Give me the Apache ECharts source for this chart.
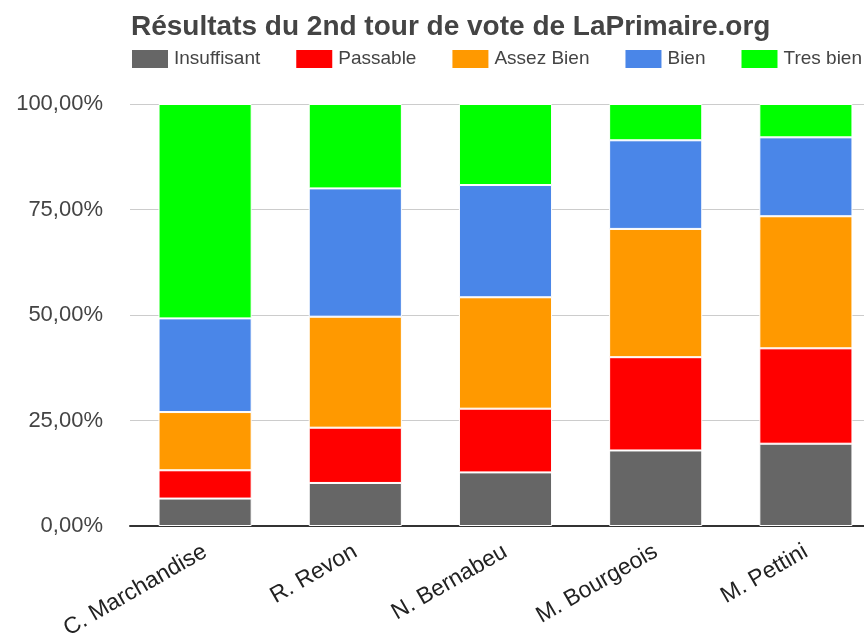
<!DOCTYPE html>
<html>
<head>
<meta charset="utf-8">
<script src="https://cdn.jsdelivr.net/npm/echarts@6/dist/echarts.min.js"></script>
<style>
html, body { margin: 0; padding: 0; background: #fff; }
#chart { width: 864px; height: 640px; }
</style>
</head>
<body>
<div id="chart"></div>
<script>
// candidats
var candidats = ['C. Marchandise', 'R. Revon', 'N. Bernabeu', 'M. Bourgeois', 'M. Pettini'];

// parts de chaque mention (%)
var insuffisant = [6.5, 10.2, 12.7, 17.9, 19.5];
var passable = [6.7, 13.1, 15.1, 22.1, 22.6];
var assezBien = [13.8, 26.3, 26.4, 30.4, 31.3];
var bien = [22.2, 30.4, 26.6, 21.0, 18.7];
var tresBien = [50.8, 20.0, 19.2, 8.6, 7.9];

var mentions = ['Insuffisant', 'Passable', 'Assez Bien', 'Bien', 'Tres bien'];
var couleurs = ['#666666', '#ff0000', '#ff9900', '#4a86e8', '#00ff00'];
var valeurs = [insuffisant, passable, assezBien, bien, tresBien];

var series = [];
for (var i = 0; i < mentions.length; i++) {
	series.push({
		name: mentions[i],
		type: 'bar',
		stack: 'total',
		barWidth: '62%',
		itemStyle: {
			color: couleurs[i],
			borderColor: '#ffffff',
			borderWidth: 1
		},
		data: valeurs[i]
	});
}

var option = {
	animation: false,
	textStyle: { fontFamily: 'Liberation Sans, Arial, sans-serif' },
	title: {
		text: 'Résultats du 2nd tour de vote de LaPrimaire.org',
		left: 126,
		top: 8,
		textStyle: { fontSize: 28, fontWeight: 'bold', color: '#444444' }
	},
	legend: {
		data: mentions,
		left: 130,
		top: 48,
		width: 900,
		padding: 0,
		itemWidth: 38,
		itemHeight: 20,
		itemGap: 34,
		icon: 'rect',
		textStyle: { fontSize: 19, color: '#444444' }
	},
	grid: {
		left: 130,
		top: 104,
		width: 751,
		bottom: 114,
		outerBoundsMode: 'none'
	},
	xAxis: {
		type: 'category',
		data: candidats,
		axisLine: { lineStyle: { color: '#333333', width: 2 } },
		axisTick: { show: false },
		axisLabel: { rotate: 30, fontSize: 23, color: '#222222', margin: 24 }
	},
	yAxis: {
		type: 'value',
		min: 0,
		max: 100,
		interval: 25,
		axisLine: { show: false },
		axisTick: { show: false },
		splitLine: { lineStyle: { color: '#cccccc', width: 1 } },
		axisLabel: {
			fontSize: 22,
			color: '#444444',
			margin: 27,
			formatter: function (v) { return v.toFixed(2).replace('.', ',') + '%'; }
		}
	},
	series: series
};

var myChart = echarts.init(document.getElementById('chart'));
myChart.setOption(option);
</script>
</body>
</html>
